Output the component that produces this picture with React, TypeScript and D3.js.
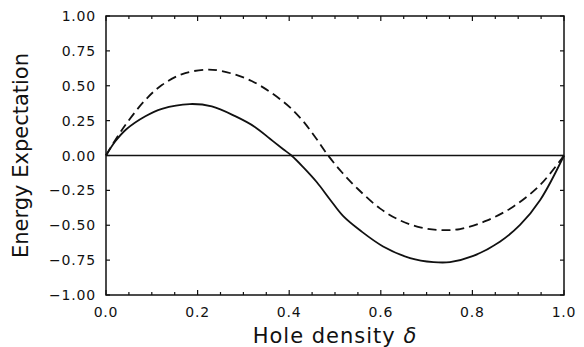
import React, { useEffect, useRef } from 'react';
import * as d3 from 'd3';

// Hole density δ vs. energy expectation
const solidDelta = [0, 0.02, 0.045, 0.085, 0.122, 0.183, 0.231, 0.282, 0.325, 0.358, 0.387, 0.405, 0.431, 0.46, 0.489, 0.518, 0.556, 0.605, 0.664, 0.715, 0.751, 0.802, 0.86, 0.904, 0.948, 1.0];
const solidE = [0, 0.1, 0.19, 0.28, 0.335, 0.369, 0.352, 0.282, 0.205, 0.12, 0.045, 0.0, -0.085, -0.19, -0.315, -0.435, -0.54, -0.652, -0.735, -0.764, -0.764, -0.72, -0.618, -0.498, -0.319, 0];

const dashDelta = [0, 0.034, 0.085, 0.122, 0.165, 0.216, 0.253, 0.318, 0.387, 0.424, 0.455, 0.485, 0.515, 0.55, 0.598, 0.642, 0.686, 0.729, 0.773, 0.831, 0.889, 0.948, 1.0];
const dashE = [0, 0.18, 0.395, 0.505, 0.582, 0.615, 0.605, 0.534, 0.386, 0.27, 0.14, 0.0, -0.12, -0.24, -0.379, -0.465, -0.515, -0.534, -0.527, -0.467, -0.367, -0.211, 0];

const xTickLabels = [0, 0.2, 0.4, 0.6, 0.8, 1.0];
const yTickLabels = [1, 0.75, 0.5, 0.25, 0, -0.25, -0.5, -0.75, -1];

const W = 584;
const H = 347;

const App = () => {
  const svgRef = useRef<SVGSVGElement>(null);

  useEffect(() => {
    if (!svgRef.current) return;
    const svg = d3.select(svgRef.current);
    svg.selectAll('*').remove();

    const x = d3.scaleLinear().domain([0, 1]).range([106, 564]);
    const y = d3.scaleLinear().domain([-1, 1]).range([295, 16]);
    const font = '"DejaVu Sans", sans-serif';

    const g = svg.append('g');

    // frame
    g.append('rect')
      .attr('x', x(0)).attr('y', y(1))
      .attr('width', x(1) - x(0)).attr('height', y(-1) - y(1))
      .attr('fill', 'none').attr('stroke', '#111').attr('stroke-width', 1.5);

    // zero line
    g.append('line')
      .attr('x1', x(0)).attr('x2', x(1))
      .attr('y1', y(0)).attr('y2', y(0))
      .attr('stroke', '#111').attr('stroke-width', 1.5);

    // x ticks, inward on bottom and top
    d3.range(0, 21).forEach(i => {
      const v = i * 0.05;
      const major = i % 4 === 0;
      const len = major ? 5 : 3;
      [[y(-1), -len], [y(1), len]].forEach(([y0, d]) => {
        g.append('line')
          .attr('x1', x(v)).attr('x2', x(v))
          .attr('y1', y0).attr('y2', y0 + d)
          .attr('stroke', '#111').attr('stroke-width', 1.2);
      });
    });

    // y ticks, inward on left and right
    yTickLabels.forEach(v => {
      g.append('line').attr('x1', x(0)).attr('x2', x(0) + 4)
        .attr('y1', y(v)).attr('y2', y(v)).attr('stroke', '#111').attr('stroke-width', 1.2);
      g.append('line').attr('x1', x(1)).attr('x2', x(1) - 4)
        .attr('y1', y(v)).attr('y2', y(v)).attr('stroke', '#111').attr('stroke-width', 1.2);
    });

    // tick labels
    xTickLabels.forEach(v => {
      g.append('text')
        .attr('x', x(v)).attr('y', 317)
        .attr('text-anchor', 'middle')
        .attr('font-family', font).attr('font-size', 14).attr('letter-spacing', 0.8)
        .attr('fill', '#111')
        .text(v.toFixed(1));
    });
    yTickLabels.forEach(v => {
      g.append('text')
        .attr('x', 96).attr('y', y(v))
        .attr('text-anchor', 'end').attr('dominant-baseline', 'central')
        .attr('font-family', font).attr('font-size', 14).attr('letter-spacing', 0.8)
        .attr('fill', '#111')
        .text(v < 0 ? `\u2212${Math.abs(v).toFixed(2)}` : v.toFixed(2));
    });

    // curves
    const line = d3.line<[number, number]>()
      .x(d => x(d[0])).y(d => y(d[1]))
      .curve(d3.curveCatmullRom.alpha(0.5));

    g.append('path')
      .attr('d', line(solidDelta.map((d, i) => [d, solidE[i]] as [number, number])))
      .attr('fill', 'none').attr('stroke', '#111').attr('stroke-width', 1.8);

    g.append('path')
      .attr('d', line(dashDelta.map((d, i) => [d, dashE[i]] as [number, number])))
      .attr('fill', 'none').attr('stroke', '#111').attr('stroke-width', 1.8)
      .attr('stroke-dasharray', '9,5');

    // axis titles
    const xt = g.append('text')
      .attr('x', (x(0) + x(1)) / 2).attr('y', 343)
      .attr('text-anchor', 'middle')
      .attr('font-family', font).attr('font-size', 21).attr('letter-spacing', 1)
      .attr('fill', '#111');
    xt.append('tspan').text('Hole density  ');
    xt.append('tspan').attr('font-style', 'italic').text('δ');

    g.append('text')
      .attr('transform', `translate(28,${(y(1) + y(-1)) / 2}) rotate(-90)`)
      .attr('text-anchor', 'middle')
      .attr('font-family', font).attr('font-size', 21)
      .attr('fill', '#111')
      .text('Energy Expectation');
  }, []);

  return (
    <div style={{ position: 'fixed', left: 0, top: 0, background: '#fff' }}>
      <svg ref={svgRef} width={W} height={H} style={{ display: 'block' }} />
    </div>
  );
};

export default App;
